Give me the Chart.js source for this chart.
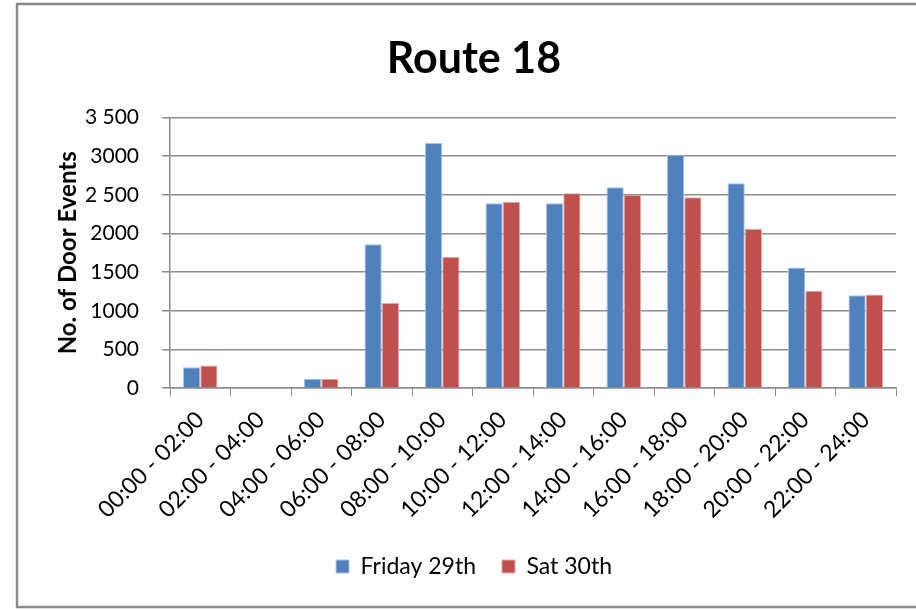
<!DOCTYPE html>
<html>
<head>
<meta charset="utf-8">
<script src="https://cdn.jsdelivr.net/npm/chart.js@4"></script>
<style>
  html, body { margin: 0; padding: 0; background: #fff; }
  #wrap { width: 916px; height: 610px; }
</style>
</head>
<body>
<div id="wrap"><canvas id="barChart" width="916" height="610"></canvas></div>
<script>
const categories = ["00:00 - 02:00", "02:00 - 04:00", "04:00 - 06:00", "06:00 - 08:00",
    "08:00 - 10:00", "10:00 - 12:00", "12:00 - 14:00", "14:00 - 16:00",
    "16:00 - 18:00", "18:00 - 20:00", "20:00 - 22:00", "22:00 - 24:00"];
const friday = [270, 0, 120, 1860, 3170, 2390, 2390, 2600, 3020, 2650, 1560, 1200];
const saturday = [290, 0, 120, 1100, 1700, 2410, 2520, 2500, 2470, 2060, 1260, 1210];
const yTickLabels = ["0", "500", "1000", "1500", "2000", "2 500", "3000", "3 500"];

const fontFamily = "Lato, 'Open Sans', sans-serif";

// grey frame round the chart, like the original sheet object
const framePlugin = {
    id: 'frame',
    beforeDraw(chart) {
        const ctx = chart.ctx;
        ctx.save();
        ctx.fillStyle = '#fff';
        ctx.fillRect(0, 0, chart.width, chart.height);
        ctx.strokeStyle = '#8a8a8a';
        ctx.lineWidth = 2.5;
        ctx.strokeRect(17, 4, 1000, 603);
        ctx.restore();
    }
};

let myChart;

function printChart() {
    const ctx = document.getElementById("barChart").getContext("2d");
    myChart = new Chart(ctx, {
        type: 'bar',
        data: {
            labels: categories,
            datasets: [{
                label: 'Friday 29th',
                data: friday,
                backgroundColor: '#4F81BD',
                borderColor: '#a9c2e3',
                borderWidth: 1
            }, {
                label: 'Sat 30th',
                data: saturday,
                backgroundColor: '#C0504D',
                borderColor: '#e3a9a8',
                borderWidth: 1
            }]
        },
        options: {
            responsive: false,
            animation: false,
            layout: { padding: { left: 52, right: 20, top: 25, bottom: 22 } },
            datasets: { bar: { categoryPercentage: 0.57, barPercentage: 1 } },
            plugins: {
                title: {
                    display: true,
                    text: 'Route 18',
                    color: '#000',
                    font: { family: fontFamily, size: 43, weight: 'bold' },
                    padding: { top: 8, bottom: 33 }
                },
                legend: {
                    position: 'bottom',
                    labels: {
                        color: '#000',
                        font: { family: fontFamily, size: 23 },
                        boxWidth: 13,
                        boxHeight: 13,
                        padding: 26
                    }
                },
                tooltip: { enabled: false }
            },
            scales: {
                x: {
                    grid: {
                        offset: true,
                        drawOnChartArea: false,
                        drawTicks: true,
                        tickLength: 8,
                        color: '#8c8c8c'
                    },
                    border: { color: '#8c8c8c', width: 1.5 },
                    ticks: {
                        color: '#000',
                        font: { family: fontFamily, size: 23 },
                        minRotation: 45,
                        maxRotation: 45,
                        padding: 10,
                        autoSkip: false
                    },
                    afterFit: (scale) => { scale.height = 141; }
                },
                y: {
                    min: 0,
                    max: 3500,
                    ticks: {
                        stepSize: 500,
                        color: '#000',
                        font: { family: fontFamily, size: 21 },
                        padding: 23,
                        callback: (value, index) => yTickLabels[index]
                    },
                    grid: { color: '#8c8c8c', lineWidth: 1.5, tickLength: 8 },
                    border: { color: '#8c8c8c', width: 1.5 },
                    title: {
                        display: true,
                        text: 'No. of Door Events',
                        color: '#000',
                        font: { family: fontFamily, size: 24, weight: 'bold' },
                        padding: { top: 2, bottom: 0 }
                    },
                    afterFit: (scale) => { scale.width = 118; }
                }
            }
        },
        plugins: [framePlugin]
    });
}

printChart();
</script>
</body>
</html>
